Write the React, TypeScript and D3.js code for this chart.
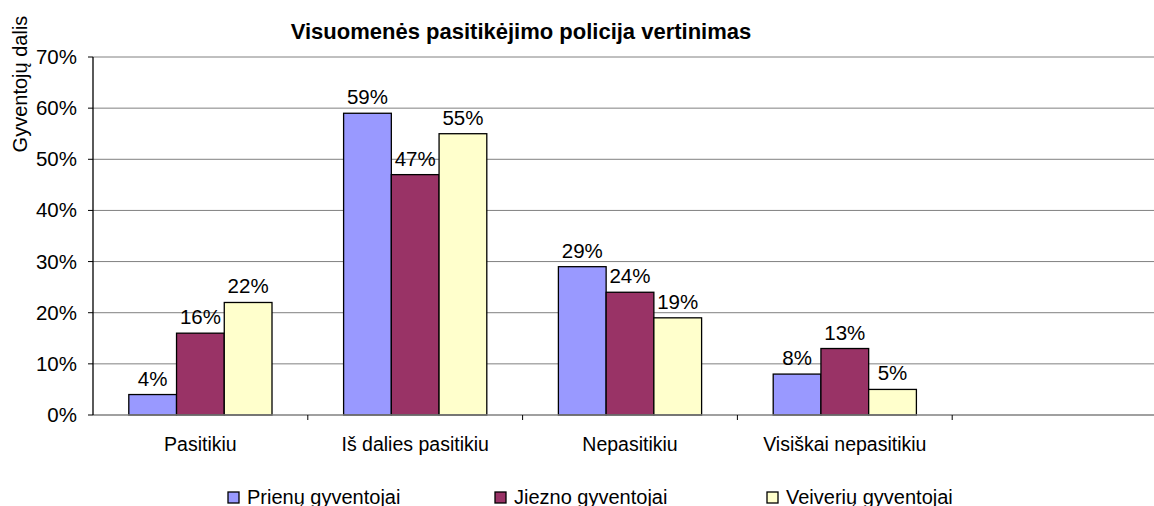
import React from 'react'
import * as d3 from 'd3'

const categories = ['Pasitikiu', 'Iš dalies pasitikiu', 'Nepasitikiu', 'Visiškai nepasitikiu', '']
const seriesNames = ['Prienų gyventojai', 'Jiezno gyventojai', 'Veiverių gyventojai']
const prienai = [4, 59, 29, 8]
const jieznas = [16, 47, 24, 13]
const veiveriai = [22, 55, 19, 5]
const colors = ['#9999FF', '#993366', '#FFFFCC']
const yTicks = [0, 10, 20, 30, 40, 50, 60, 70]

const W = 1154
const H = 506
const margin = { left: 93, top: 57, right: -13, bottom: 91 }
const font = 'Arial, "Liberation Sans", sans-serif'

export default function App () {
    const series = [prienai, jieznas, veiveriai]
    const x = d3.scaleBand().domain(categories).range([margin.left, W - margin.right])
    const y = d3.scaleLinear().domain([0, 70]).range([H - margin.bottom, margin.top])
    const inner = d3.scaleBand().domain(seriesNames).range([0, x.bandwidth()]).paddingOuter(0.75)
    const bw = inner.bandwidth()
    const legendX = [228, 495, 767]

    return (
        <svg width={W} height={H} style={{ position: 'absolute', left: 0, top: 0, background: '#fff' }}
            fontFamily={font}>
            <text x={521} y={39} textAnchor="middle" fontSize={22} fontWeight="bold">
                Visuomenės pasitikėjimo policija vertinimas
            </text>
            <text transform={`translate(27,84) rotate(-90)`} textAnchor="middle" fontSize={20}>
                Gyventojų dalis
            </text>
            {yTicks.map(t => (
                <g key={t}>
                    {t > 0 && <line x1={margin.left} x2={W} y1={y(t)} y2={y(t)} stroke="#808080" strokeWidth={1} />}
                    <line x1={margin.left - 5} x2={margin.left} y1={y(t)} y2={y(t)} stroke="#000" />
                    <text x={77} y={y(t) + 7} textAnchor="end" fontSize={20.5}>{t}%</text>
                </g>
            ))}
            {series.map((vals, si) => vals.map((v, ci) => {
                const bx = (x(categories[ci]) || 0) + (inner(seriesNames[si]) || 0)
                return (
                    <g key={`${si}-${ci}`}>
                        <rect x={bx} y={y(v)} width={bw} height={y(0) - y(v)}
                            fill={colors[si]} stroke="#000" strokeWidth={1.3} />
                        <text x={bx + bw / 2} y={y(v) - 9} textAnchor="middle" fontSize={20.5}>{v}%</text>
                    </g>
                )
            }))}
            <line x1={margin.left} x2={W} y1={y(0)} y2={y(0)} stroke="#808080" strokeWidth={1.3} />
            <line x1={margin.left} x2={margin.left} y1={y(70)} y2={y(0)} stroke="#000" strokeWidth={1.3} />
            {categories.map((c, i) => (
                <g key={i}>
                    {i > 0 && <line x1={x(c)} x2={x(c)} y1={y(0)} y2={y(0) + 5} stroke="#000" />}
                    <text x={(x(c) || 0) + x.bandwidth() / 2} y={451} textAnchor="middle" fontSize={19.5}>{c}</text>
                </g>
            ))}
            {seriesNames.map((n, i) => (
                <g key={n}>
                    <rect x={legendX[i]} y={492} width={11} height={11} fill={colors[i]} stroke="#000" strokeWidth={1.3} />
                    <text x={legendX[i] + 19} y={504} fontSize={20}>{n}</text>
                </g>
            ))}
        </svg>
    )
}
